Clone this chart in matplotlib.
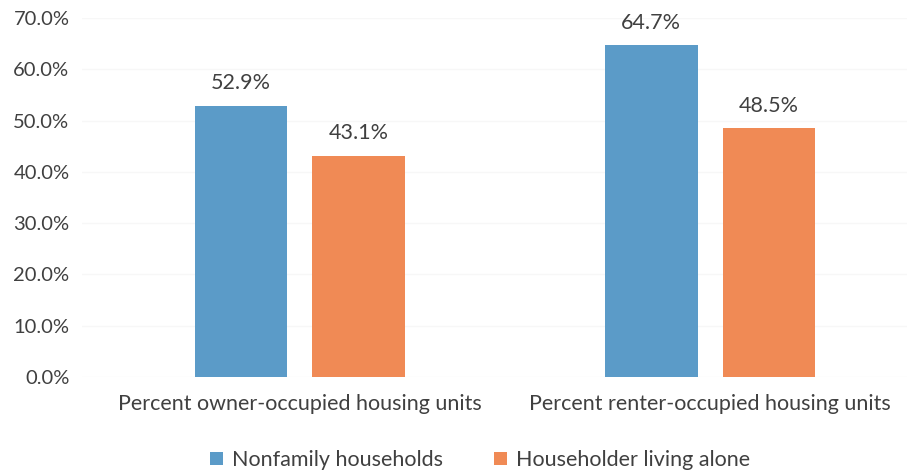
import matplotlib.pyplot as plt
import numpy as np

plt.rcParams['font.family'] = ['Lato', 'DejaVu Sans']

categories = ['Percent owner-occupied housing units', 'Percent renter-occupied housing units']
series_names = ['Nonfamily households', 'Householder living alone']
nonfamily = [52.9, 64.7]
living_alone = [43.1, 48.5]
y_ticks = [0, 10, 20, 30, 40, 50, 60, 70]

text_color = '#404040'
colors = ['#5b9bc8', '#f08a55']
fs = 15.5

fig = plt.figure(figsize=(9.07, 4.72), dpi=100)
ax = fig.add_axes([0.0904, 0.2013, 0.9096, 0.7606])

x = np.arange(len(categories))
width = 0.225
offset = 0.1435

for vals, off, color, name in [(nonfamily, -offset, colors[0], series_names[0]),
                               (living_alone, offset, colors[1], series_names[1])]:
    bars = ax.bar(x + off, vals, width, color=color, label=name, zorder=2)
    for b, v in zip(bars, vals):
        ax.annotate(f'{v:.1f}%', (b.get_x() + b.get_width() / 2, v),
                    xytext=(0, 9), textcoords='offset points',
                    ha='center', va='bottom', fontsize=fs, color=text_color)

ax.set_xlim(-0.530, 1.479)
ax.set_ylim(0, 70)
ax.set_yticks(y_ticks)
ax.set_yticklabels([f'{t:.1f}%' for t in y_ticks])
ax.set_xticks(x)
ax.set_xticklabels(categories)
ax.tick_params(axis='both', length=0, labelsize=fs, labelcolor=text_color)
ax.tick_params(axis='y', labelsize=14.5, pad=9)
ax.tick_params(axis='x', pad=12)
ax.yaxis.grid(True, color='#f7f7f7', linewidth=1, zorder=0)
for s in ax.spines.values():
    s.set_visible(False)

fig.legend(loc='center', bbox_to_anchor=(480 / 907, 1 - 460 / 472), ncol=2,
           frameon=False, fontsize=fs, handlelength=0.6, handleheight=0.6,
           handletextpad=0.4, columnspacing=2.4, labelcolor=text_color)

fig.savefig('out.png', dpi=100)
